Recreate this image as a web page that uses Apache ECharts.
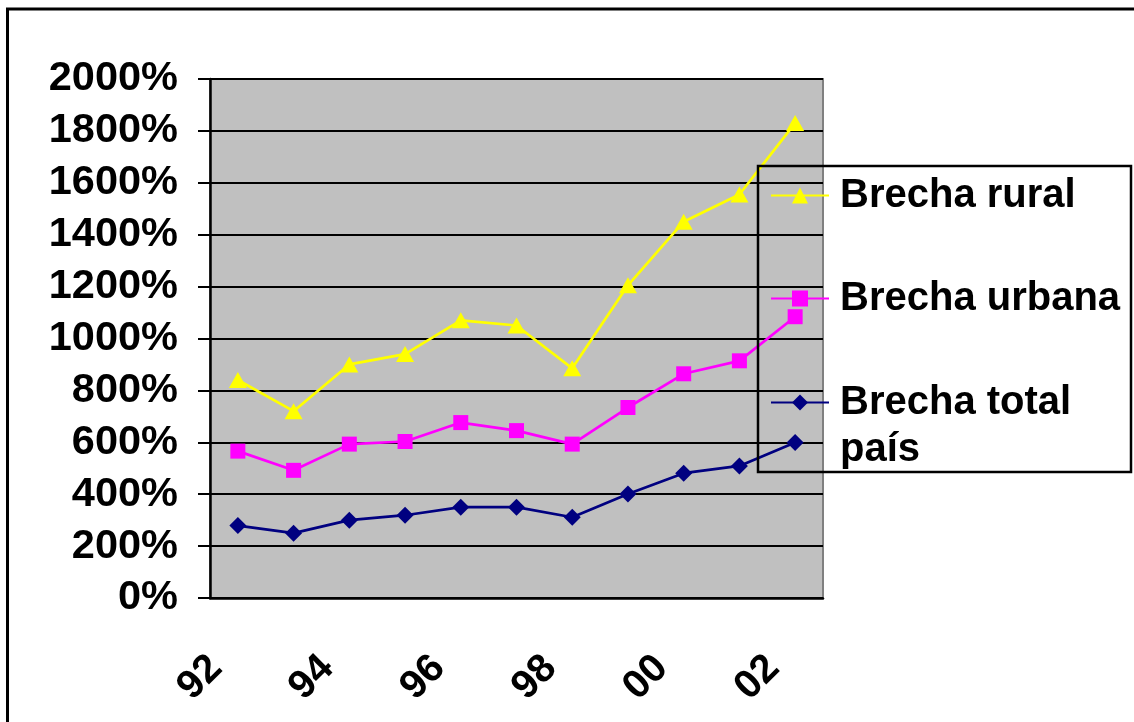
<!DOCTYPE html>
<html>
<head>
<meta charset="utf-8" />
<script src="https://cdn.jsdelivr.net/npm/echarts@6/dist/echarts.min.js"></script>
<style>
  html, body { margin: 0; padding: 0; background: #fff; }
  #chart { width: 1134px; height: 722px; }
</style>
</head>
<body>
<div id="chart"></div>
<script>
// years shown on the category axis (only every second label is printed)
const years = ["92", "93", "94", "95", "96", "97", "98", "99", "00", "01", "02"];

// values in percent
const brechaRural = [840, 720, 900, 940, 1070, 1050, 885, 1205, 1450, 1555, 1830];
const brechaUrbana = [566, 492, 593, 603, 676, 645, 593, 734, 864, 914, 1084];
const brechaTotal = [279, 250, 300, 319, 350, 350, 311, 401, 481, 509, 599];

const yTicks = { min: 0, max: 2000, step: 200 };

const FONT = "'Liberation Sans', Arial, sans-serif";

const chart = echarts.init(document.getElementById("chart"));

const lineSeries = (name, data, color, symbol, size) => ({
  name,
  type: "line",
  data,
  symbol,
  symbolSize: size,
  itemStyle: { color },
  lineStyle: { color, width: 2.7 },
  emphasis: { disabled: true },
  z: 3,
});

const legendText = {
  fontFamily: FONT,
  fontWeight: "bold",
  fontSize: 40,
  color: "#000",
  lineHeight: 47,
  padding: [0, 0, 0, 6],
};

const option = {
  animation: false,
  backgroundColor: "#fff",
  grid: {
    left: 210,
    top: 79,
    right: 311,
    bottom: 124,
    show: true,
    backgroundColor: "#C0C0C0",
    borderColor: "#808080",
    borderWidth: 2,
  },
  legend: [
    {
      data: ["Brecha rural", "Brecha urbana"],
      orient: "vertical",
      left: 770,
      top: 172,
      padding: 0,
      itemWidth: 58,
      itemHeight: 20,
      itemGap: 56,
      selectedMode: false,
      textStyle: legendText,
    },
    {
      data: ["Brecha total país"],
      orient: "vertical",
      left: 770,
      top: 332,
      padding: 0,
      itemWidth: 58,
      itemHeight: 20,
      selectedMode: false,
      // blank first line keeps "Brecha total" level with the icon
      formatter: () => " \nBrecha total\npaís",
      textStyle: legendText,
    },
  ],
  xAxis: {
    type: "category",
    data: years,
    boundaryGap: true,
    axisLine: { lineStyle: { color: "#000", width: 2.5 } },
    axisTick: {
      interval: 0,
      length: 12,
      lineStyle: { color: "#000", width: 2 },
    },
    axisLabel: {
      interval: 1,
      rotate: 45,
      margin: 86,
      verticalAlign: "bottom",
      lineHeight: 40,
      padding: [0, 0, 11, 0],
      fontFamily: FONT,
      fontWeight: "bold",
      fontSize: 40,
      color: "#000",
    },
    splitLine: { show: false },
  },
  yAxis: {
    type: "value",
    min: yTicks.min,
    max: yTicks.max,
    interval: yTicks.step,
    axisLine: { show: true, lineStyle: { color: "#000", width: 2.5 } },
    axisTick: {
      show: true,
      length: 12,
      lineStyle: { color: "#000", width: 2 },
    },
    axisLabel: {
      margin: 32,
      formatter: (v) => v + "%",
      fontFamily: FONT,
      fontWeight: "bold",
      fontSize: 41.5,
      color: "#000",
    },
    splitLine: { lineStyle: { color: "#000", width: 2 } },
  },
  series: [
    lineSeries("Brecha rural", brechaRural, "#FFFF00", "triangle", [18, 16]),
    lineSeries("Brecha urbana", brechaUrbana, "#FF00FF", "rect", 15),
    lineSeries("Brecha total país", brechaTotal, "#000080", "diamond", 17),
  ],
  graphic: [
    {
      // chart frame (runs off the right and bottom edge)
      type: "rect",
      shape: { x: 7.5, y: 9, width: 1200, height: 800 },
      style: { fill: "none", stroke: "#000", lineWidth: 3 },
      silent: true,
    },
    {
      // legend frame, no fill
      type: "rect",
      shape: { x: 758, y: 166, width: 373, height: 306 },
      style: { fill: "none", stroke: "#000", lineWidth: 2.5 },
      z: 10,
      silent: true,
    },
  ],
};

chart.setOption(option);
</script>
</body>
</html>
